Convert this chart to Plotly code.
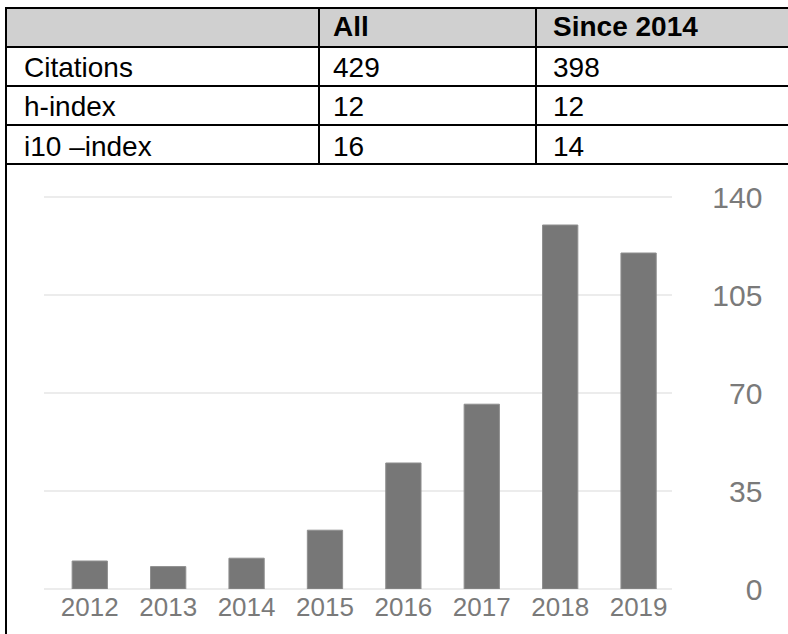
import plotly.graph_objects as go

# ---- data ----
years = ["2012", "2013", "2014", "2015", "2016", "2017", "2018", "2019"]
citations = [10, 8, 11, 21, 45, 66, 130, 120]
y_ticks = [0, 35, 70, 105, 140]

table_header = ["", "All", "Since 2014"]
row_labels = ["Citations", "h-index", "i10 \u2013index"]
col_all = ["429", "12", "16"]
col_since = ["398", "12", "14"]

W, H = 788, 634

def px(x):
    return x / W

def py(y):
    return 1 - y / H

fig = go.Figure()
fig.add_trace(go.Bar(
    x=list(range(len(years))), y=citations, width=0.45,
    marker=dict(color="#777777", line=dict(color="#8f8f8f", width=1)),
    hoverinfo="skip",
))

# padded tick labels for right alignment
maxlen = max(len(str(v)) for v in y_ticks)
ytext = ["\u2007" * (maxlen - len(str(v))) + str(v) for v in y_ticks]

x0, x1 = 44.3, 672.3
y_zero, y_140 = 589.0, 197.0
ppu = (y_zero - y_140) / 140.0
ytop = 146
fig.update_layout(
    width=W, height=H,
    margin=dict(l=0, r=0, t=0, b=0),
    paper_bgcolor="white", plot_bgcolor="white",
    showlegend=False,
    xaxis=dict(
        domain=[px(x0), px(x1)],
        range=[-0.58, 7.43],
        tickmode="array", tickvals=list(range(len(years))), ticktext=years,
        showgrid=False, zeroline=False, showline=False, ticks="",
        tickfont=dict(family="Arial, Liberation Sans", size=26, color="#7a7a7a"),
        ticklabelstandoff=0,
        automargin=False, fixedrange=True,
    ),
    yaxis=dict(
        domain=[py(y_zero), py(y_zero - ytop * ppu)],
        range=[0, ytop],
        side="right",
        tickmode="array", tickvals=y_ticks, ticktext=ytext,
        showgrid=True, gridcolor="#ececec", gridwidth=1.5,
        zeroline=True, zerolinecolor="#ececec", zerolinewidth=1.5,
        showline=False, ticks="",
        tickfont=dict(family="Arial, Liberation Sans", size=30, color="#7a7a7a"),
        ticklabelstandoff=39,
        automargin=False, fixedrange=True,
    ),
)

shapes = []
# header fill
shapes.append(dict(type="rect", xref="paper", yref="paper",
                   x0=px(6), x1=px(W), y0=py(47), y1=py(8),
                   fillcolor="#d0d0d0", line=dict(width=0), layer="below"))
lc = "black"
lw = 2
# horizontal lines
for yy in [8, 47, 86, 125, 164]:
    shapes.append(dict(type="line", xref="paper", yref="paper",
                       x0=px(5), x1=px(W), y0=py(yy), y1=py(yy),
                       line=dict(color=lc, width=lw)))
# left border full height
shapes.append(dict(type="line", xref="paper", yref="paper",
                   x0=px(6), x1=px(6), y0=py(7), y1=py(H),
                   line=dict(color=lc, width=lw)))
# column dividers
for xx in [319, 536]:
    shapes.append(dict(type="line", xref="paper", yref="paper",
                       x0=px(xx), x1=px(xx), y0=py(8), y1=py(164),
                       line=dict(color=lc, width=lw)))
fig.update_layout(shapes=shapes)

annots = []
font = dict(family="Arial, Liberation Sans", size=28, color="black")
col_x = [22, 331, 551]
hdr_y = 26.5
for i, t in enumerate(table_header):
    if t:
        annots.append(dict(xref="paper", yref="paper", x=px(col_x[i]), y=py(hdr_y),
                           text="<b>" + t + "</b>", showarrow=False,
                           xanchor="left", yanchor="middle", font=font))
row_y = [67.5, 106.7, 146.5]
for r in range(len(row_labels)):
    for c, val in enumerate([row_labels[r], col_all[r], col_since[r]]):
        annots.append(dict(xref="paper", yref="paper", x=px(col_x[c]), y=py(row_y[r]),
                           text=val, showarrow=False,
                           xanchor="left", yanchor="middle", font=font))
fig.update_layout(annotations=annots)

fig.write_html("out.html", config={"displayModeBar": False},
               post_script="document.body.style.margin='0';document.body.style.overflow='hidden';")
